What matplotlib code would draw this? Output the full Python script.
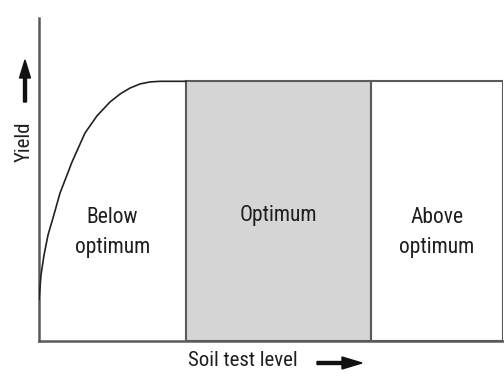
import matplotlib
matplotlib.use("Agg")
import matplotlib.pyplot as plt
from matplotlib.patches import Rectangle, FancyArrow

# Yield response curve (soil test level 0-100, relative yield 0-100)
soil_level = [0.0, 0.43, 1.08, 1.94, 3.02, 4.53, 7.11, 9.91, 12.5, 15.3,
              17.5, 19.6, 21.8, 23.9, 26.1, 31.7]
yield_pct = [12.7, 20.4, 26.6, 32.8, 38.1, 45.8, 55.4, 64.4, 69.7, 74.0,
             76.5, 78.3, 79.6, 80.2, 80.4, 80.4]

# Interpretation zones along the soil test axis
zone_names = ["Below\noptimum", "Optimum", "Above\noptimum"]
zone_edges = [0.0, 31.7, 71.6, 100.0]
zone_colors = ["white", "#d5d5d5", "white"]
plateau = 80.4

fig = plt.figure(figsize=(5.04, 3.76), dpi=100)
ax = fig.add_axes([39 / 504, 35 / 376, 464 / 504, 323 / 376])
ax.set_xlim(0, 100)
ax.set_ylim(0, 100)

line_col = "#5a5a5a"
text_col = "#1e1e1e"
font = ["Roboto Condensed", "Liberation Sans Narrow", "DejaVu Sans"]
tkw = dict(family=font, fontstretch="condensed", fontweight="normal",
           color=text_col)

# Zone boxes (optimum and above optimum are outlined boxes)
for i in range(1, 3):
    x0, x1 = zone_edges[i], zone_edges[i + 1]
    ax.add_patch(Rectangle((x0, 0), x1 - x0, plateau, facecolor=zone_colors[i],
                           edgecolor=line_col, linewidth=1.5, zorder=1))

for i, name in enumerate(zone_names):
    xc = (zone_edges[i] + zone_edges[i + 1]) / 2
    yc = 33.5 if "\n" in name else 39.0
    ax.text(xc, yc, name, ha="center", va="center", fontsize=15.5,
            linespacing=1.55, **tkw)

ax.plot(soil_level, yield_pct, color="#222222", linewidth=1.2, zorder=3,
        solid_capstyle="round")

for s in ["top", "right"]:
    ax.spines[s].set_visible(False)
for s in ["left", "bottom"]:
    ax.spines[s].set_color(line_col)
    ax.spines[s].set_linewidth(1.8)
ax.set_xticks([])
ax.set_yticks([])

# Axis titles with direction arrows
fig.text(24 / 504, 1 - 142 / 376, "Yield", rotation=90, ha="center", va="center",
         fontsize=15, **tkw)
fig.text(243 / 504, 1 - 361 / 376, "Soil test level", ha="center", va="center",
         fontsize=15, **tkw)
fig.patches.append(FancyArrow(
    25 / 504, 1 - 102 / 376, 0, 42 / 376, width=3 / 504, head_width=11 / 504,
    head_length=18 / 376, length_includes_head=True, color="#111111",
    transform=fig.transFigure, figure=fig))
fig.patches.append(FancyArrow(
    317 / 504, 1 - 363 / 376, 45 / 504, 0, width=3 / 376, head_width=12 / 376,
    head_length=20 / 504, length_includes_head=True, color="#111111",
    transform=fig.transFigure, figure=fig))

fig.savefig("out.png", dpi=100, facecolor="white")
